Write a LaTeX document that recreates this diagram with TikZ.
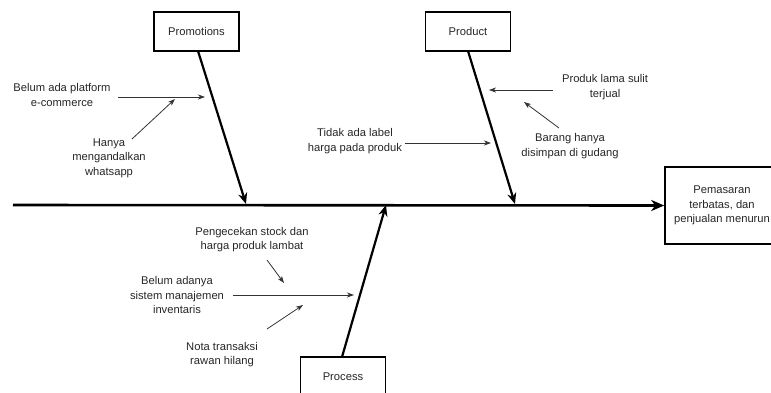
\documentclass[tikz,border=0pt]{standalone}
\usepackage{fontspec}
\setmainfont{Liberation Sans}
\usetikzlibrary{arrows.meta}
\begin{document}
\begin{tikzpicture}[x=1pt,y=-1pt,
  every node/.style={font=\fontsize{11.2}{14.5}\selectfont, text=black!85},
  catbox/.style={draw=black, line width=1.6pt, minimum width=85pt, minimum height=39pt, inner sep=0pt},
  effectbox/.style={draw=black, line width=1.6pt, minimum width=114pt, minimum height=77pt, inner sep=0pt, align=center},
  cause/.style={align=center, inner sep=1pt},
  spine/.style={line width=2.6pt, -{Stealth[length=13pt, width=11pt, inset=4pt]}},
  bone/.style={line width=2.2pt, -{Stealth[length=11pt, width=9pt, inset=3.5pt]}},
  twig/.style={line width=0.8pt, draw=black!80, -{Stealth[length=7pt, width=5pt, inset=2pt]}}
]
\useasboundingbox (0,0) rectangle (771,392);

% effect and category boxes
\node[effectbox] (effect) at (722,205.5) {Pemasaran\\terbatas, dan\\penjualan menurun};
\node[catbox] (promo) at (196.5,31.5) {Promotions};
\node[catbox] (product) at (468,31.5) {Product};
\node[catbox] (process) at (343,376.5) {Process};

% spine
\coordinate (tail) at (13,205);
\draw[spine] (tail) -- (effect.west);

% main bones
\coordinate (pj) at (246,204);
\coordinate (rj) at (515,204);
\coordinate (sj) at (386,205);
\coordinate (ps) at (198,51);
\coordinate (rs) at (468,51);
\coordinate (ss) at (342,357);
\draw[bone] (ps) -- (pj);
\draw[bone] (rs) -- (rj);
\draw[bone] (ss) -- (sj);

% causes: promotions
\node[cause] (c1) at (62,95) {Belum ada platform\\e-commerce};
\node[cause] (c2) at (109,158) {Hanya\\mengandalkan\\whatsapp};
\coordinate (c1a) at (118,97);  \coordinate (c1b) at (205,97);
\coordinate (c2a) at (132,139); \coordinate (c2b) at (175,99);
\draw[twig] (c1a) -- (c1b);
\draw[twig] (c2a) -- (c2b);

% causes: product
\node[cause] (c3) at (355,141) {Tidak ada label\\harga pada produk};
\node[cause] (c4) at (605,87) {Produk lama sulit\\terjual};
\node[cause] (c5) at (570,146) {Barang hanya\\disimpan di gudang};
\coordinate (c3a) at (405,143); \coordinate (c3b) at (491,143);
\coordinate (c4a) at (553,90);  \coordinate (c4b) at (489,90);
\coordinate (c5a) at (559,128); \coordinate (c5b) at (524,102);
\draw[twig] (c3a) -- (c3b);
\draw[twig] (c4a) -- (c4b);
\draw[twig] (c5a) -- (c5b);

% causes: process
\node[cause] (c6) at (252,239.5) {Pengecekan stock dan\\harga produk lambat};
\node[cause] (c7) at (177,295) {Belum adanya\\sistem manajemen\\inventaris};
\node[cause] (c8) at (222,354.5) {Nota transaksi\\rawan hilang};
\coordinate (c6a) at (267,260); \coordinate (c6b) at (284,283);
\coordinate (c7a) at (233,295); \coordinate (c7b) at (354,295);
\coordinate (c8a) at (267,329); \coordinate (c8b) at (303,305);
\draw[twig] (c6a) -- (c6b);
\draw[twig] (c7a) -- (c7b);
\draw[twig] (c8a) -- (c8b);
\end{tikzpicture}
\end{document}
